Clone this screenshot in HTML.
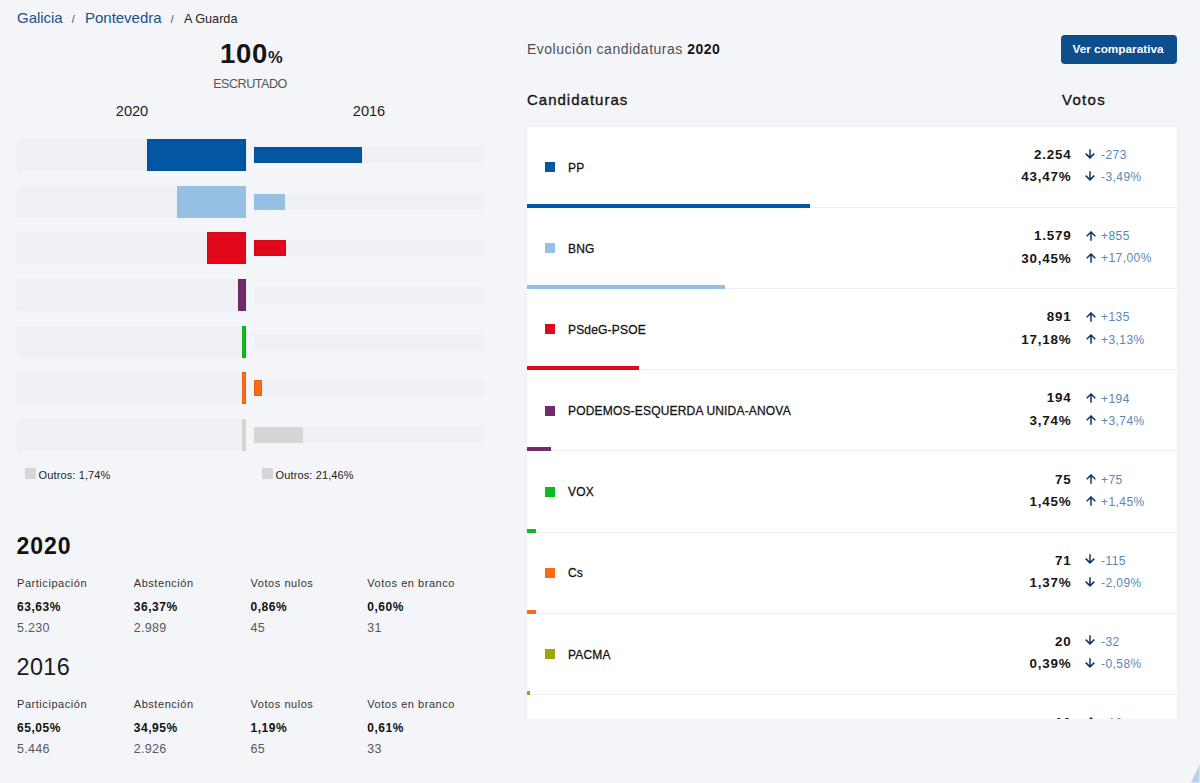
<!DOCTYPE html>
<html><head><meta charset="utf-8"><title>A Guarda</title>
<style>
*{box-sizing:border-box;margin:0;padding:0}
html,body{width:1200px;height:783px;overflow:hidden;background:#f4f5f9;font-family:"Liberation Sans", sans-serif;color:#1b1b1b}
.a{position:absolute;white-space:nowrap;line-height:1}
.bc{top:10px;left:17px;font-size:15px}
.bc .lk{letter-spacing:-0.03px}
.bc .lk{color:#1a5186}
.bc .sep{color:#444;font-size:10.5px;margin:0 10.3px 0 9.2px;position:relative;top:-0.5px}
.bc .cur{color:#222;font-size:12.7px;margin-left:0px}
.big{left:151.3px;width:200px;text-align:center;top:40px;font-size:27.5px;font-weight:bold;color:#161616;letter-spacing:0.7px}
.big small{font-size:16.5px;letter-spacing:0}
.escr{left:150px;width:200px;text-align:center;top:78.3px;font-size:12.6px;color:#555;letter-spacing:-0.5px}
.yr{top:104px;font-size:14.6px;color:#1d1d1d;text-align:center;width:230px}
.bgbar{position:absolute;background:#eff0f4}
.bar{position:absolute;box-shadow:inset 0 0 0 1px rgba(0,0,0,0.08)}
.bar.nb{box-shadow:none}
.leg{font-size:11px;color:#1d1d1d;letter-spacing:0.12px;margin-left:0.6px}
.sq{position:absolute;width:10.6px;height:11px;background:#d6d6d6}
.h2{font-size:23px;font-weight:bold;color:#111;left:16.5px;letter-spacing:1px}
.h2l{font-size:23.4px;font-weight:normal;color:#1b1b1b;left:16.5px;letter-spacing:0.4px;margin-top:0.6px}
.lab{font-size:11px;color:#333;letter-spacing:0.55px}
.val{font-size:12px;font-weight:bold;color:#111;letter-spacing:0.55px}
.num{font-size:12.5px;color:#595959;letter-spacing:0.3px}
.evo{left:527px;top:42.2px;font-size:14px;color:#505050;letter-spacing:0.5px}
.evo b{color:#161616}
.btn{position:absolute;left:1061px;top:35px;width:116px;height:29px;background:#0e4e8b;border-radius:4px;color:#fff;font-size:11.8px;font-weight:bold;text-align:center;line-height:26.5px;border-top:1px solid #0a457e;padding-right:2px}
.th{font-size:15px;color:#161616;top:92.4px;-webkit-text-stroke:0.35px #161616;letter-spacing:1px}
.card{position:absolute;left:527px;top:126.9px;width:650px;height:592px;background:#fff;overflow:hidden;box-shadow:0 0 2px rgba(30,40,90,0.08);clip-path:inset(-4px -4px 0 -4px)}
.row{position:absolute;left:0;width:650px;height:81.13px;border-bottom:1px solid #eef0f3}
.rsq{position:absolute;left:18px;top:35.3px;width:10px;height:10px}
.rname{position:absolute;left:41px;top:34.9px;font-size:12px;letter-spacing:0.18px;color:#161616;-webkit-text-stroke:0.3px #161616;line-height:1;white-space:nowrap}
.rv{position:absolute;right:106.3px;font-size:13.4px;font-weight:bold;color:#161616;line-height:1;text-align:right;letter-spacing:0.8px;margin-right:-0.8px}
.rd{position:absolute;left:574px;font-size:12px;letter-spacing:0.45px;color:#5a87b4;line-height:1;white-space:nowrap}
.arr{position:absolute}
.rbar{position:absolute;left:0;top:77.1px;height:4px}
</style></head><body>

<div class="a bc"><span class="lk">Galicia</span><span class="sep">/</span><span class="lk">Pontevedra</span><span class="sep">/</span><span class="cur">A Guarda</span></div>
<div class="a big">100<small>%</small></div>
<div class="a escr">ESCRUTADO</div>
<div class="a yr" style="left:17px">2020</div>
<div class="a yr" style="left:254px">2016</div>
<div class="bgbar" style="left:17px;top:139.00px;width:229.5px;height:32px"></div>
<div class="bar" style="left:146.74px;top:139.00px;width:99.76px;height:32px;background:#0356a1"></div>
<div class="bgbar" style="left:254px;top:147.00px;width:230.0px;height:16px"></div>
<div class="bar" style="left:254px;top:147.00px;width:108.01px;height:16px;background:#0356a1"></div>
<div class="bgbar" style="left:17px;top:185.67px;width:229.5px;height:32px"></div>
<div class="bar nb" style="left:176.62px;top:185.67px;width:69.88px;height:32px;background:#95c0e3"></div>
<div class="bgbar" style="left:254px;top:193.67px;width:230.0px;height:16px"></div>
<div class="bar nb" style="left:254px;top:193.67px;width:30.93px;height:16px;background:#95c0e3"></div>
<div class="bgbar" style="left:17px;top:232.33px;width:229.5px;height:32px"></div>
<div class="bar" style="left:207.07px;top:232.33px;width:39.43px;height:32px;background:#e2081b"></div>
<div class="bgbar" style="left:254px;top:240.33px;width:230.0px;height:16px"></div>
<div class="bar" style="left:254px;top:240.33px;width:32.32px;height:16px;background:#e2081b"></div>
<div class="bgbar" style="left:17px;top:279.00px;width:229.5px;height:32px"></div>
<div class="bar" style="left:237.92px;top:279.00px;width:8.58px;height:32px;background:#742a6f"></div>
<div class="bgbar" style="left:254px;top:287.00px;width:230.0px;height:16px"></div>
<div class="bgbar" style="left:17px;top:325.67px;width:229.5px;height:32px"></div>
<div class="bar" style="left:241.90px;top:325.67px;width:4.60px;height:32px;background:#0cbc1e"></div>
<div class="bgbar" style="left:254px;top:333.67px;width:230.0px;height:16px"></div>
<div class="bgbar" style="left:17px;top:372.34px;width:229.5px;height:32px"></div>
<div class="bar" style="left:241.90px;top:372.34px;width:4.60px;height:32px;background:#fb6a17"></div>
<div class="bgbar" style="left:254px;top:380.34px;width:230.0px;height:16px"></div>
<div class="bar" style="left:254px;top:380.34px;width:7.96px;height:16px;background:#fb6a17"></div>
<div class="bgbar" style="left:17px;top:419.00px;width:229.5px;height:32px"></div>
<div class="bar nb" style="left:241.90px;top:419.00px;width:4.60px;height:32px;background:#d6d6d6"></div>
<div class="bgbar" style="left:254px;top:427.00px;width:230.0px;height:16px"></div>
<div class="bar nb" style="left:254px;top:427.00px;width:49.36px;height:16px;background:#d6d6d6"></div>
<div class="sq" style="left:25px;top:468px"></div><div class="a leg" style="left:38px;top:470px">Outros: 1,74%</div>
<div class="sq" style="left:262px;top:468px"></div><div class="a leg" style="left:275px;top:470px">Outros: 21,46%</div>
<div class="a h2" style="top:535px">2020</div>
<div class="a lab" style="left:17.00px;top:578px">Participación</div>
<div class="a val" style="left:17.00px;top:601px">63,63%</div>
<div class="a num" style="left:17.00px;top:622px">5.230</div>
<div class="a lab" style="left:133.75px;top:578px">Abstención</div>
<div class="a val" style="left:133.75px;top:601px">36,37%</div>
<div class="a num" style="left:133.75px;top:622px">2.989</div>
<div class="a lab" style="left:250.50px;top:578px">Votos nulos</div>
<div class="a val" style="left:250.50px;top:601px">0,86%</div>
<div class="a num" style="left:250.50px;top:622px">45</div>
<div class="a lab" style="left:367.25px;top:578px">Votos en branco</div>
<div class="a val" style="left:367.25px;top:601px">0,60%</div>
<div class="a num" style="left:367.25px;top:622px">31</div>
<div class="a h2l" style="top:655.5px">2016</div>
<div class="a lab" style="left:17.00px;top:698.5px">Participación</div>
<div class="a val" style="left:17.00px;top:721.5px">65,05%</div>
<div class="a num" style="left:17.00px;top:742.5px">5.446</div>
<div class="a lab" style="left:133.75px;top:698.5px">Abstención</div>
<div class="a val" style="left:133.75px;top:721.5px">34,95%</div>
<div class="a num" style="left:133.75px;top:742.5px">2.926</div>
<div class="a lab" style="left:250.50px;top:698.5px">Votos nulos</div>
<div class="a val" style="left:250.50px;top:721.5px">1,19%</div>
<div class="a num" style="left:250.50px;top:742.5px">65</div>
<div class="a lab" style="left:367.25px;top:698.5px">Votos en branco</div>
<div class="a val" style="left:367.25px;top:721.5px">0,61%</div>
<div class="a num" style="left:367.25px;top:742.5px">33</div>
<div class="a evo">Evolución candidaturas <b>2020</b></div>
<div class="btn">Ver comparativa</div>
<div class="a th" style="left:527px">Candidaturas</div>
<div class="a th" style="left:1062px;letter-spacing:1.3px">Votos</div>
<div class="card">
<div class="row" style="top:0.0px">
<div class="rsq" style="background:#0356a1"></div><div class="rname">PP</div>
<div class="rv" style="top:21.2px">2.254</div><div class="rv" style="top:43.5px">43,47%</div>
<svg class="arr" style="left:557.5px;top:21.8px" width="10" height="10" viewBox="0 0 10 10"><path d="M5 0.2V9M0.7 4.6L5 8.9L9.3 4.6" fill="none" stroke="#10336b" stroke-width="1.5"/></svg>
<svg class="arr" style="left:557.5px;top:44.0px" width="10" height="10" viewBox="0 0 10 10"><path d="M5 0.2V9M0.7 4.6L5 8.9L9.3 4.6" fill="none" stroke="#10336b" stroke-width="1.5"/></svg>
<div class="rd" style="top:22.3px">-273</div><div class="rd" style="top:44.4px">-3,49%</div>
<div class="rbar" style="width:282.56px;background:#0356a1"></div>
</div>
<div class="row" style="top:81.13px">
<div class="rsq" style="background:#95c0e3"></div><div class="rname">BNG</div>
<div class="rv" style="top:21.2px">1.579</div><div class="rv" style="top:43.5px">30,45%</div>
<svg class="arr" style="left:558.5px;top:22.6px" width="10" height="10" viewBox="0 0 10 10"><path d="M5 9.8V1M0.7 5.3L5 1L9.3 5.3" fill="none" stroke="#10336b" stroke-width="1.5"/></svg>
<svg class="arr" style="left:558.5px;top:44.800000000000004px" width="10" height="10" viewBox="0 0 10 10"><path d="M5 9.8V1M0.7 5.3L5 1L9.3 5.3" fill="none" stroke="#10336b" stroke-width="1.5"/></svg>
<div class="rd" style="top:22.3px">+855</div><div class="rd" style="top:44.4px">+17,00%</div>
<div class="rbar" style="width:197.92px;background:#95c0e3"></div>
</div>
<div class="row" style="top:162.26px">
<div class="rsq" style="background:#e2081b"></div><div class="rname">PSdeG-PSOE</div>
<div class="rv" style="top:21.2px">891</div><div class="rv" style="top:43.5px">17,18%</div>
<svg class="arr" style="left:558.5px;top:22.6px" width="10" height="10" viewBox="0 0 10 10"><path d="M5 9.8V1M0.7 5.3L5 1L9.3 5.3" fill="none" stroke="#10336b" stroke-width="1.5"/></svg>
<svg class="arr" style="left:558.5px;top:44.800000000000004px" width="10" height="10" viewBox="0 0 10 10"><path d="M5 9.8V1M0.7 5.3L5 1L9.3 5.3" fill="none" stroke="#10336b" stroke-width="1.5"/></svg>
<div class="rd" style="top:22.3px">+135</div><div class="rd" style="top:44.4px">+3,13%</div>
<div class="rbar" style="width:111.67px;background:#e2081b"></div>
</div>
<div class="row" style="top:243.39px">
<div class="rsq" style="background:#742a6f"></div><div class="rname">PODEMOS-ESQUERDA UNIDA-ANOVA</div>
<div class="rv" style="top:21.2px">194</div><div class="rv" style="top:43.5px">3,74%</div>
<svg class="arr" style="left:558.5px;top:22.6px" width="10" height="10" viewBox="0 0 10 10"><path d="M5 9.8V1M0.7 5.3L5 1L9.3 5.3" fill="none" stroke="#10336b" stroke-width="1.5"/></svg>
<svg class="arr" style="left:558.5px;top:44.800000000000004px" width="10" height="10" viewBox="0 0 10 10"><path d="M5 9.8V1M0.7 5.3L5 1L9.3 5.3" fill="none" stroke="#10336b" stroke-width="1.5"/></svg>
<div class="rd" style="top:22.3px">+194</div><div class="rd" style="top:44.4px">+3,74%</div>
<div class="rbar" style="width:24.31px;background:#742a6f"></div>
</div>
<div class="row" style="top:324.52px">
<div class="rsq" style="background:#0cbc1e"></div><div class="rname">VOX</div>
<div class="rv" style="top:21.2px">75</div><div class="rv" style="top:43.5px">1,45%</div>
<svg class="arr" style="left:558.5px;top:22.6px" width="10" height="10" viewBox="0 0 10 10"><path d="M5 9.8V1M0.7 5.3L5 1L9.3 5.3" fill="none" stroke="#10336b" stroke-width="1.5"/></svg>
<svg class="arr" style="left:558.5px;top:44.800000000000004px" width="10" height="10" viewBox="0 0 10 10"><path d="M5 9.8V1M0.7 5.3L5 1L9.3 5.3" fill="none" stroke="#10336b" stroke-width="1.5"/></svg>
<div class="rd" style="top:22.3px">+75</div><div class="rd" style="top:44.4px">+1,45%</div>
<div class="rbar" style="width:9.42px;background:#0cbc1e"></div>
</div>
<div class="row" style="top:405.65px">
<div class="rsq" style="background:#fb6a17"></div><div class="rname">Cs</div>
<div class="rv" style="top:21.2px">71</div><div class="rv" style="top:43.5px">1,37%</div>
<svg class="arr" style="left:557.5px;top:21.8px" width="10" height="10" viewBox="0 0 10 10"><path d="M5 0.2V9M0.7 4.6L5 8.9L9.3 4.6" fill="none" stroke="#10336b" stroke-width="1.5"/></svg>
<svg class="arr" style="left:557.5px;top:44.0px" width="10" height="10" viewBox="0 0 10 10"><path d="M5 0.2V9M0.7 4.6L5 8.9L9.3 4.6" fill="none" stroke="#10336b" stroke-width="1.5"/></svg>
<div class="rd" style="top:22.3px">-115</div><div class="rd" style="top:44.4px">-2,09%</div>
<div class="rbar" style="width:8.90px;background:#fb6a17"></div>
</div>
<div class="row" style="top:486.78px">
<div class="rsq" style="background:#a2a40c"></div><div class="rname">PACMA</div>
<div class="rv" style="top:21.2px">20</div><div class="rv" style="top:43.5px">0,39%</div>
<svg class="arr" style="left:557.5px;top:21.8px" width="10" height="10" viewBox="0 0 10 10"><path d="M5 0.2V9M0.7 4.6L5 8.9L9.3 4.6" fill="none" stroke="#10336b" stroke-width="1.5"/></svg>
<svg class="arr" style="left:557.5px;top:44.0px" width="10" height="10" viewBox="0 0 10 10"><path d="M5 0.2V9M0.7 4.6L5 8.9L9.3 4.6" fill="none" stroke="#10336b" stroke-width="1.5"/></svg>
<div class="rd" style="top:22.3px">-32</div><div class="rd" style="top:44.4px">-0,58%</div>
<div class="rbar" style="width:2.54px;background:#a2a40c"></div>
</div>
<div class="row" style="top:567.91px">
<div class="rv" style="top:21.2px">10</div><div class="rv" style="top:43.5px">0,19%</div>
<svg class="arr" style="left:558.5px;top:22.6px" width="10" height="10" viewBox="0 0 10 10"><path d="M5 9.8V1M0.7 5.3L5 1L9.3 5.3" fill="none" stroke="#10336b" stroke-width="1.5"/></svg>
<svg class="arr" style="left:558.5px;top:44.800000000000004px" width="10" height="10" viewBox="0 0 10 10"><path d="M5 9.8V1M0.7 5.3L5 1L9.3 5.3" fill="none" stroke="#10336b" stroke-width="1.5"/></svg>
<div class="rd" style="top:22.3px">+10</div><div class="rd" style="top:44.4px">+0,19%</div>
<div class="rbar" style="width:1.24px;background:#cccccc"></div>
</div>
</div>
<svg style="position:absolute;left:1180px;top:760px" width="20" height="23"><path d="M10.3 23L19 4.8L20 4.5V23Z" fill="#b9cfe6" stroke="#eef4fc" stroke-width="1"/></svg>
</body></html>
